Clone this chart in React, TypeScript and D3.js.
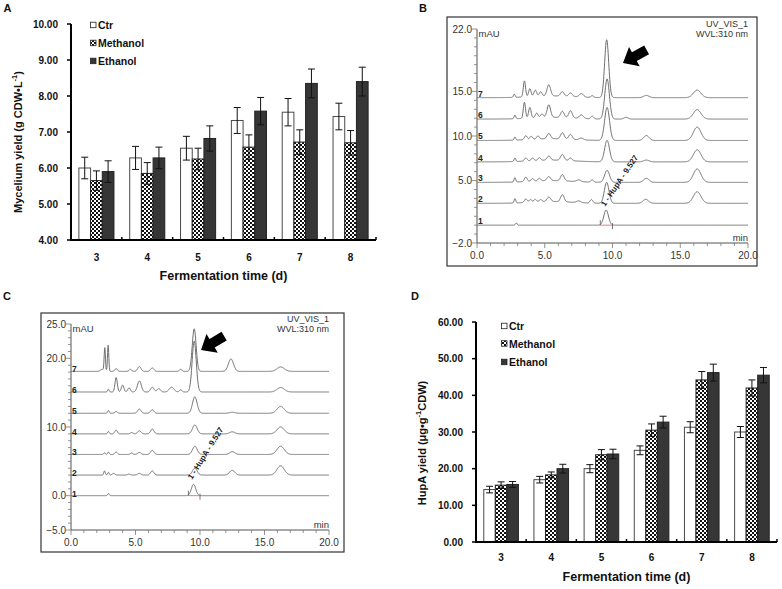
import React from "react";
import * as d3 from "d3";

// ---------- Bar chart data ----------
const categories = ["3", "4", "5", "6", "7", "8"];
const seriesNames = ["Ctr", "Methanol", "Ethanol"];

const myceliumCtr = [6.0, 6.28, 6.55, 7.32, 7.55, 7.43];
const myceliumMethanol = [5.65, 5.85, 6.25, 6.58, 6.72, 6.7];
const myceliumEthanol = [5.9, 6.28, 6.82, 7.58, 8.35, 8.4];
const myceliumCtrErr = [0.3, 0.32, 0.33, 0.36, 0.38, 0.37];
const myceliumMethanolErr = [0.27, 0.3, 0.3, 0.34, 0.34, 0.34];
const myceliumEthanolErr = [0.3, 0.3, 0.35, 0.38, 0.4, 0.4];
const myceliumTicks = [4, 5, 6, 7, 8, 9, 10];

const hupaCtr = [14.3, 17.0, 20.0, 25.0, 31.3, 30.0];
const hupaMethanol = [15.5, 18.3, 23.8, 30.5, 44.2, 42.0];
const hupaEthanol = [15.7, 20.0, 24.0, 32.7, 46.2, 45.5];
const hupaCtrErr = [0.9, 0.9, 1.1, 1.2, 1.5, 1.5];
const hupaMethanolErr = [0.9, 0.8, 1.4, 1.7, 2.3, 2.2];
const hupaEthanolErr = [0.8, 1.2, 1.3, 1.6, 2.3, 2.1];
const hupaTicks = [0, 10, 20, 30, 40, 50, 60];

// ---------- Chromatogram data: trace baselines (mAU) and peaks [time min, height mAU, sigma min] ----------
const chromBTicks = [22, 15, 10, 5, -2];
const chromBBaselines = [0, 2.45, 4.8, 7.1, 9.5, 11.9, 14.3];
const chromBPeaks: number[][][] = [
  [[2.9, 0.25, 0.06], [9.53, 1.7, 0.17]],
  [[2.8, 0.5, 0.06], [3.6, 0.4, 0.1], [3.95, 0.3, 0.1], [4.3, 0.3, 0.1], [4.7, 0.25, 0.1], [5.3, 0.5, 0.14], [6.3, 0.8, 0.13], [7.5, 0.2, 0.15], [8.45, 0.4, 0.1], [9.57, 2.35, 0.17], [12.45, 0.45, 0.2], [16.25, 1.3, 0.28], [5.5, 0.2, 1.5]],
  [[2.8, 0.5, 0.06], [3.6, 0.5, 0.1], [4.1, 0.3, 0.1], [4.6, 0.3, 0.1], [5.3, 0.45, 0.13], [6.3, 0.7, 0.13], [7.5, 0.2, 0.15], [8.5, 0.25, 0.1], [9.6, 1.35, 0.18], [12.5, 0.45, 0.2], [16.25, 1.5, 0.28], [5.5, 0.2, 1.5]],
  [[2.8, 0.4, 0.06], [3.6, 0.35, 0.1], [4.1, 0.3, 0.1], [4.6, 0.3, 0.1], [5.3, 0.45, 0.13], [6.3, 0.65, 0.13], [6.9, 0.3, 0.12], [9.6, 2.4, 0.18], [12.5, 0.2, 0.2], [16.25, 1.35, 0.28], [5.5, 0.2, 1.5]],
  [[2.8, 0.35, 0.06], [3.6, 0.45, 0.1], [4.0, 0.35, 0.1], [4.5, 0.35, 0.1], [5.3, 0.6, 0.13], [6.3, 0.7, 0.13], [6.9, 0.55, 0.13], [7.7, 0.2, 0.15], [9.6, 3.7, 0.18], [12.5, 0.55, 0.2], [16.25, 1.5, 0.28], [5.5, 0.2, 1.5]],
  [[2.8, 0.4, 0.06], [3.5, 1.8, 0.08], [3.9, 1.2, 0.09], [4.4, 0.5, 0.1], [4.8, 0.4, 0.1], [5.3, 1.4, 0.13], [6.3, 0.7, 0.13], [6.9, 0.8, 0.13], [7.7, 0.4, 0.15], [8.5, 0.3, 0.1], [9.6, 4.5, 0.17], [11.0, 0.2, 0.15], [16.25, 1.05, 0.28], [5.5, 0.2, 1.5]],
  [[2.75, 0.35, 0.06], [3.5, 1.8, 0.08], [3.9, 0.9, 0.09], [4.3, 0.7, 0.1], [4.7, 0.5, 0.1], [5.3, 1.25, 0.13], [6.3, 0.5, 0.13], [6.9, 0.4, 0.13], [7.7, 0.4, 0.15], [8.5, 0.2, 0.1], [9.57, 6.5, 0.15], [12.5, 0.25, 0.2], [16.25, 0.85, 0.28], [5.5, 0.2, 1.5]],
];

const chromCTicks = [25, 20, 10, 0, -5];
const chromCBaselines = [0, 3.0, 6.0, 9.0, 12.0, 15.1, 18.1];
const chromCPeaks: number[][][] = [
  [[2.9, 0.3, 0.06], [9.5, 1.65, 0.17]],
  [[2.6, 0.6, 0.06], [2.9, 0.4, 0.06], [3.3, 0.25, 0.1], [4.5, 0.15, 0.1], [5.3, 0.25, 0.13], [6.3, 0.6, 0.13], [9.6, 1.0, 0.18], [12.5, 0.7, 0.2], [16.25, 1.35, 0.28]],
  [[2.6, 0.25, 0.06], [2.9, 0.35, 0.06], [3.5, 0.35, 0.1], [4.7, 0.2, 0.1], [5.3, 0.3, 0.13], [6.3, 0.6, 0.13], [9.6, 1.2, 0.18], [12.5, 0.4, 0.2], [16.25, 1.2, 0.28]],
  [[2.9, 0.35, 0.06], [3.5, 0.55, 0.1], [4.7, 0.2, 0.1], [5.3, 0.45, 0.13], [6.3, 0.7, 0.13], [9.6, 1.3, 0.18], [12.5, 0.3, 0.2], [16.25, 1.0, 0.28]],
  [[2.9, 0.4, 0.06], [3.5, 0.25, 0.1], [5.3, 0.6, 0.13], [6.3, 0.5, 0.13], [9.6, 2.4, 0.18], [12.5, 0.15, 0.2], [16.25, 1.0, 0.28]],
  [[2.9, 0.4, 0.06], [3.5, 2.1, 0.09], [4.0, 1.0, 0.1], [4.5, 0.6, 0.1], [5.3, 1.6, 0.15], [6.3, 0.7, 0.13], [6.8, 0.5, 0.13], [7.8, 0.7, 0.18], [8.5, 0.3, 0.1], [9.55, 7.4, 0.16], [16.25, 0.65, 0.28]],
  [[2.4, 0.3, 0.12], [2.62, 3.4, 0.05], [2.88, 3.8, 0.05], [3.5, 0.4, 0.1], [4.6, 0.3, 0.1], [5.3, 0.7, 0.13], [6.3, 0.5, 0.13], [8.5, 0.3, 0.1], [9.55, 6.2, 0.15], [12.4, 1.8, 0.2], [16.25, 0.65, 0.28]],
];

const FONT = "'Liberation Sans', Arial, sans-serif";

type BarProps = {
  x0: number; x1: number; yTop: number; yBot: number;
  domain: [number, number]; ticks: number[];
  values: number[][]; errors: number[][];
  yLabelMain: string; yLabelTail: string; yLabelX: number; yLabelY: number;
  xLabelY: number; catY: number; legendX: number; legendYs: number[];
};

function BarPanel(p: BarProps) {
  const xb = d3.scaleBand<string>().domain(categories).range([p.x0, p.x1]).paddingInner(0.31).paddingOuter(0.155);
  const xs = d3.scaleBand<string>().domain(seriesNames).range([0, xb.bandwidth()]);
  const y = d3.scaleLinear().domain(p.domain).range([p.yBot, p.yTop]);
  const fills = ["#ffffff", "url(#checker)", "#363636"];
  const strokes = ["#4a4a4a", "#222", "#222"];
  const step = xb.step();
  return (
    <g fontFamily={FONT}>
      {categories.map((c, ci) =>
        seriesNames.map((s, si) => {
          const v = p.values[si][ci];
          const e = p.errors[si][ci];
          const bx = (xb(c) as number) + (xs(s) as number);
          const bw = xs.bandwidth();
          const cx = bx + bw / 2;
          return (
            <g key={c + s}>
              <rect x={bx} y={y(v)} width={bw} height={p.yBot - y(v)} fill={fills[si]} stroke={strokes[si]} strokeWidth={1} />
              <line x1={cx} x2={cx} y1={y(v - e)} y2={y(v + e)} stroke="#111" strokeWidth={1} />
              <line x1={cx - 3.5} x2={cx + 3.5} y1={y(v + e)} y2={y(v + e)} stroke="#111" strokeWidth={1} />
              <line x1={cx - 3.5} x2={cx + 3.5} y1={y(v - e)} y2={y(v - e)} stroke="#111" strokeWidth={1} />
            </g>
          );
        })
      )}
      {/* axes */}
      <line x1={p.x0} x2={p.x0} y1={p.yTop} y2={p.yBot + 1} stroke="#000" strokeWidth={2} />
      <line x1={p.x0 - 1} x2={p.x1} y1={p.yBot} y2={p.yBot} stroke="#000" strokeWidth={2} />
      {p.ticks.map((t) => (
        <g key={t}>
          <line x1={p.x0 - 4} x2={p.x0} y1={y(t)} y2={y(t)} stroke="#000" strokeWidth={1.5} />
          <text x={p.x0 - 13} y={y(t)} textAnchor="end" dominantBaseline="central" fontSize={10} fontWeight="bold" fill="#111">
            {d3.format(".2f")(t)}
          </text>
        </g>
      ))}
      {categories.map((c, i) => (
        <g key={c}>
          <line x1={p.x0 + step * (i + 1)} x2={p.x0 + step * (i + 1)} y1={p.yBot - 3} y2={p.yBot} stroke="#000" strokeWidth={1.5} />
          <text x={(xb(c) as number) + xb.bandwidth() / 2} y={p.catY} textAnchor="middle" dominantBaseline="central" fontSize={10} fontWeight="bold" fill="#111">{c}</text>
        </g>
      ))}
      <text x={(p.x0 + p.x1) / 2} y={p.xLabelY} textAnchor="middle" dominantBaseline="central" fontSize={12.5} fontWeight="bold" fill="#111">
        Fermentation time (d)
      </text>
      <text transform={`translate(${p.yLabelX},${p.yLabelY}) rotate(-90)`} textAnchor="middle" dominantBaseline="central" fontSize={11} fontWeight="bold" fill="#111">
        {p.yLabelMain}
        <tspan dy={-4} fontSize={7.5}>-1</tspan>
        <tspan dy={4}>{p.yLabelTail}</tspan>
      </text>
      {seriesNames.map((s, si) => (
        <g key={s}>
          <rect x={p.legendX} y={p.legendYs[si] - 2.8} width={5.5} height={5.5} fill={fills[si]} stroke="#222" strokeWidth={0.8} />
          <text x={p.legendX + 7.5} y={p.legendYs[si]} dominantBaseline="central" fontSize={10.5} fontWeight="bold" fill="#111">{s}</text>
        </g>
      ))}
    </g>
  );
}

type ChromProps = {
  frame: [number, number, number, number];
  xr: [number, number]; yd: [number, number]; yr: [number, number];
  majors: number[]; baselines: number[]; peaks: number[][][];
  labelDy: number; arrowTip: [number, number]; arrowAngle: number;
  annot: [number, number, number];
};

function Chromatogram(p: ChromProps) {
  const x = d3.scaleLinear().domain([0, 20]).range(p.xr);
  const y = d3.scaleLinear().domain(p.yd).range(p.yr);
  const times = d3.range(0, 20.0001, 0.02);
  const line = d3.line<number[]>().x((d) => x(d[0])).y((d) => y(d[1]));
  const traces = p.baselines.map((b, i) =>
    times.map((t) => [t, b + d3.sum(p.peaks[i], (pk) => pk[1] * Math.exp(-0.5 * ((t - pk[0]) / pk[2]) ** 2))])
  );
  const minorY = d3.range(Math.ceil(p.yd[0]), p.yd[1] + 0.001, 1);
  const minorX = d3.range(0, 20.001, 1);
  const majorX = [0, 5, 10, 15, 20];
  const [fx, fy, fw, fh] = p.frame;
  const arrow = [[0, 0], [-13, -11], [-13, -5], [-27, -5], [-27, 5], [-13, 5], [-13, 11]];
  const b1 = y(p.baselines[0]);
  return (
    <g fontFamily={FONT}>
      <rect x={fx} y={fy} width={fw} height={fh} fill="none" stroke="#333" strokeWidth={1.2} />
      {traces.map((tr, i) => (
        <path key={i} d={line(tr) as string} fill="none" stroke="#6e6e6e" strokeWidth={1} />
      ))}
      {/* peak integration marks on trace 1 */}
      <line x1={x(9.1)} x2={x(10.0)} y1={b1} y2={b1} stroke="#e08080" strokeWidth={1} />
      <line x1={x(9.1)} x2={x(9.1)} y1={b1 - 5} y2={b1} stroke="#555" strokeWidth={0.8} />
      <line x1={x(10.0)} x2={x(10.0)} y1={b1 - 2} y2={b1 + 4} stroke="#555" strokeWidth={0.8} />
      {/* axes */}
      <line x1={p.xr[0]} x2={p.xr[0]} y1={p.yr[1]} y2={p.yr[0]} stroke="#555" strokeWidth={1} />
      <line x1={p.xr[0]} x2={p.xr[1]} y1={p.yr[0]} y2={p.yr[0]} stroke="#555" strokeWidth={1} />
      {minorY.map((v) => (
        <line key={v} x1={p.xr[0] - (p.majors.includes(v) ? 5 : 3)} x2={p.xr[0]} y1={y(v)} y2={y(v)} stroke="#777" strokeWidth={0.8} />
      ))}
      {p.majors.map((v) => (
        <text key={v} x={p.xr[0] - 5} y={y(v)} textAnchor="end" dominantBaseline="central" fontSize={10} fill="#333">
          {d3.format(".1f")(v)}
        </text>
      ))}
      {minorX.map((v) => (
        <line key={v} x1={x(v)} x2={x(v)} y1={p.yr[0]} y2={p.yr[0] + (majorX.includes(v) ? 5 : 3)} stroke="#777" strokeWidth={0.8} />
      ))}
      {majorX.map((v) => (
        <text key={v} x={x(v)} y={p.yr[0] + 12} textAnchor="middle" dominantBaseline="central" fontSize={10} fill="#333">
          {d3.format(".1f")(v)}
        </text>
      ))}
      {p.baselines.map((b, i) => (
        <text key={i} x={p.xr[0] + 1} y={y(b) + p.labelDy} fontSize={8.5} fontWeight="bold" fill="#222">{i + 1}</text>
      ))}
      <text x={p.xr[0] + 1.5} y={p.yr[1] + 8} fontSize={9.5} fill="#333">mAU</text>
      <text x={p.xr[1]} y={p.yr[1] - 2.5} textAnchor="end" fontSize={9} fill="#333">UV_VIS_1</text>
      <text x={p.xr[1]} y={p.yr[1] + 8} textAnchor="end" fontSize={9} fill="#333">WVL:310 nm</text>
      <text x={p.xr[1]} y={p.yr[0] - 2} textAnchor="end" fontSize={9.5} fill="#333">min</text>
      <polygon
        points={arrow.map((a) => a.join(",")).join(" ")}
        transform={`translate(${p.arrowTip[0]},${p.arrowTip[1]}) rotate(${p.arrowAngle})`}
        fill="#000"
      />
      <text transform={`translate(${p.annot[0]},${p.annot[1]}) rotate(${p.annot[2]})`} fontSize={8} fontWeight="bold" fill="#222">
        1 - HupA - 9.527
      </text>
    </g>
  );
}

export default function App() {
  return (
    <svg width={782} height={589} viewBox="0 0 782 589" style={{ position: "absolute", left: 0, top: 0, background: "#fff" }}>
      <defs>
        <pattern id="checker" width={4} height={4} patternUnits="userSpaceOnUse">
          <rect width={4} height={4} fill="#fff" />
          <rect width={2} height={2} fill="#111" />
          <rect x={2} y={2} width={2} height={2} fill="#111" />
        </pattern>
      </defs>
      <rect width={782} height={589} fill="#fff" />
      <BarPanel
        x0={71} x1={376} yTop={24} yBot={240} domain={[4, 10]} ticks={myceliumTicks}
        values={[myceliumCtr, myceliumMethanol, myceliumEthanol]}
        errors={[myceliumCtrErr, myceliumMethanolErr, myceliumEthanolErr]}
        yLabelMain="Mycelium yield (g CDW•L" yLabelTail=")" yLabelX={18} yLabelY={142}
        xLabelY={276} catY={257} legendX={90.5} legendYs={[25, 43, 61]}
      />
      <BarPanel
        x0={476} x1={777} yTop={322} yBot={542} domain={[0, 60]} ticks={hupaTicks}
        values={[hupaCtr, hupaMethanol, hupaEthanol]}
        errors={[hupaCtrErr, hupaMethanolErr, hupaEthanolErr]}
        yLabelMain="HupA yield (μg•g" yLabelTail="CDW)" yLabelX={422} yLabelY={443}
        xLabelY={577} catY={557} legendX={501.5} legendYs={[326, 343.5, 362]}
      />
      <Chromatogram
        frame={[447, 17, 310, 249]} xr={[477, 748]} yd={[-2, 22]} yr={[243, 29]}
        majors={chromBTicks} baselines={chromBBaselines} peaks={chromBPeaks}
        labelDy={-1} arrowTip={[623, 63]} arrowAngle={151} annot={[605, 207, -56]}
      />
      <Chromatogram
        frame={[41, 313, 303, 239]} xr={[71, 329]} yd={[-5, 25]} yr={[530, 324]}
        majors={chromCTicks} baselines={chromCBaselines} peaks={chromCPeaks}
        labelDy={1} arrowTip={[201, 350]} arrowAngle={149} annot={[192, 480, -58]}
      />
      <g fontFamily={FONT} fontWeight="bold" fontSize={11} fill="#111">
        <text x={3.5} y={12}>A</text>
        <text x={419} y={12}>B</text>
        <text x={3} y={300}>C</text>
        <text x={411} y={300}>D</text>
      </g>
    </svg>
  );
}
